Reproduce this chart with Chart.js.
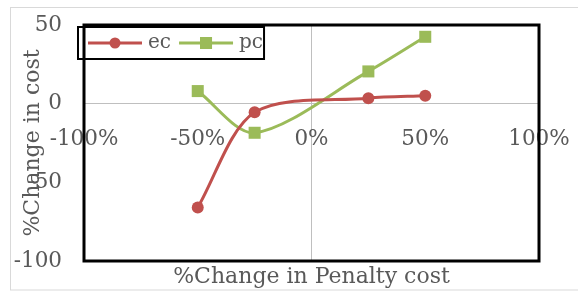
<!DOCTYPE html>
<html>
<head>
<meta charset="utf-8">
<script src="https://cdn.jsdelivr.net/npm/chart.js@4.4.0/dist/chart.umd.min.js"></script>
<style>
  html, body { margin: 0; padding: 0; background: #fff; }
  #wrap { width: 578px; height: 291px; position: relative; }
</style>
</head>
<body>
<div id="wrap"><canvas id="chart"></canvas></div>
<script>
// % change in penalty cost (x) and % change in cost (y)
const xValues = [-50, -25, 25, 50];
const ecValues = [-66, -5.5, 3.5, 5];
const pcValues = [8, -18.5, 20.5, 42.5];
const xTicks = [-100, -50, 0, 50, 100];
const yTicks = [-100, -50, 0, 50];

const FONT = '"DejaVu Serif", serif';
const TEXT = '#595959';

const toPoints = ys => xValues.map((x, i) => ({ x: x, y: ys[i] }));
const zeroLine = ctx => (ctx.tick && ctx.tick.value === 0) ? '#BFBFBF' : 'rgba(0,0,0,0)';
const noOverflow = s => {
    s.paddingLeft = 0; s.paddingRight = 0;
    s.paddingTop = 0; s.paddingBottom = 0;
};

// grey outer frame + black plot box
const frames = {
    id: 'frames',
    beforeDraw(chart) {
        const ctx = chart.ctx;
        ctx.save();
        ctx.strokeStyle = '#D9D9D9';
        ctx.lineWidth = 1;
        ctx.strokeRect(10.5, 7.5, 620, 282.5);
        ctx.restore();
    },
    afterDraw(chart) {
        const { ctx, chartArea: a } = chart;
        ctx.save();
        ctx.strokeStyle = '#000';
        ctx.lineWidth = 3;
        ctx.strokeRect(a.left, a.top, a.right - a.left, a.bottom - a.top);
        ctx.restore();
    }
};

// legend in a box inside the plot, top-left
const boxLegend = {
    id: 'boxLegend',
    afterDraw(chart) {
        const { ctx, chartArea: a } = chart;
        const x0 = a.left - 6, y0 = a.top + 2, h = 32;
        const cy = y0 + h / 2;
        let x = x0 + 10;
        ctx.save();
        ctx.font = '20px ' + FONT;
        ctx.textBaseline = 'middle';
        chart.data.datasets.forEach(ds => {
            ctx.strokeStyle = ds.borderColor;
            ctx.lineWidth = 3;
            ctx.beginPath();
            ctx.moveTo(x, cy);
            ctx.lineTo(x + 54, cy);
            ctx.stroke();
            ctx.fillStyle = ds.pointBackgroundColor;
            Chart.helpers.drawPoint(ctx, {
                pointStyle: ds.pointStyle,
                radius: ds.pointStyle === 'rect' ? 8.5 : 5.5,
                borderWidth: 0
            }, x + 27, cy);
            ctx.fillStyle = TEXT;
            ctx.fillText(ds.label, x + 60, cy);
            x += 60 + ctx.measureText(ds.label).width + 8;
        });
        ctx.strokeStyle = '#000';
        ctx.lineWidth = 2;
        ctx.strokeRect(x0, y0, x - 7 - x0, h);
        ctx.restore();
    }
};

new Chart(document.getElementById('chart'), {
    type: 'line',
    data: {
        datasets: [
            {
                label: 'ec',
                data: toPoints(ecValues),
                borderColor: '#C0504D',
                pointBackgroundColor: '#C0504D',
                pointBorderWidth: 0,
                pointStyle: 'circle',
                pointRadius: 6,
                borderWidth: 3,
                tension: 0.3
            },
            {
                label: 'pc',
                data: toPoints(pcValues),
                borderColor: '#9BBB59',
                pointBackgroundColor: '#9BBB59',
                pointBorderWidth: 0,
                pointStyle: 'rect',
                pointRadius: 8.5,
                borderWidth: 3,
                tension: 0.3
            }
        ]
    },
    options: {
        responsive: true,
        maintainAspectRatio: false,
        animation: false,
        layout: { padding: { left: 12, top: 25, right: 39, bottom: 0 } },
        plugins: {
            legend: { display: false },
            tooltip: { enabled: false }
        },
        scales: {
            x: {
                type: 'linear',
                position: { y: 0 },
                min: -100,
                max: 100,
                afterBuildTicks: s => { s.ticks = xTicks.map(v => ({ value: v })); },
                afterFit: noOverflow,
                ticks: {
                    callback: v => v + '%',
                    font: { family: FONT, size: 21.5 },
                    color: TEXT,
                    padding: 23,
                    maxRotation: 0
                },
                grid: { color: zeroLine, drawTicks: false, lineWidth: 1 },
                border: { display: false }
            },
            xt: {
                type: 'linear',
                axis: 'x',
                position: 'bottom',
                min: -100,
                max: 100,
                ticks: { display: false },
                grid: { display: false },
                border: { display: false },
                title: {
                    display: true,
                    text: '%Change in Penalty cost',
                    font: { family: FONT, size: 22 },
                    color: TEXT,
                    padding: { top: 0, bottom: 1 }
                },
                afterFit: s => { noOverflow(s); s.height = 30; }
            },
            y: {
                type: 'linear',
                position: 'left',
                min: -100,
                max: 50,
                afterBuildTicks: s => { s.ticks = yTicks.map(v => ({ value: v })); },
                ticks: {
                    font: { family: FONT, size: 21.5 },
                    color: TEXT,
                    padding: 22
                },
                grid: { color: zeroLine, drawTicks: false, lineWidth: 1 },
                border: { display: false },
                title: {
                    display: true,
                    text: '%Change in cost',
                    font: { family: FONT, size: 22 },
                    color: TEXT,
                    padding: { top: 8, bottom: 0 }
                },
                afterFit: s => { noOverflow(s); s.width = 72; }
            }
        }
    },
    plugins: [frames, boxLegend]
});
</script>
</body>
</html>
